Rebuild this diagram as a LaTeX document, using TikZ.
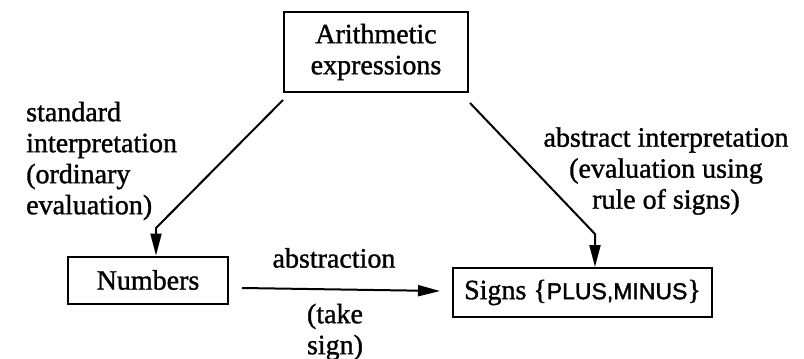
\documentclass[tikz,border=0pt]{standalone}
\usepackage{fontspec}
\setmainfont{Liberation Serif}[FakeBold=1.2]
\newfontfamily\capsans{Liberation Sans}[FakeBold=1.5]
\usetikzlibrary{arrows.meta}
\begin{document}
\begin{tikzpicture}[x=1pt,y=-1pt,
  txt/.style={font=\fontsize{28}{31}\selectfont, inner sep=0pt},
  box/.style={draw, line width=2pt, font=\fontsize{28}{31}\selectfont, align=center, inner sep=0pt},
  conn/.style={line width=2pt, -{Triangle[length=22pt,width=11pt]}}]
\useasboundingbox (0,0) rectangle (804,359);
% boxes
\node[box, minimum width=184pt, minimum height=80pt] (top) at (376,52) {Arithmetic\\expressions};
\node[box, minimum width=160pt, minimum height=47pt] (num) at (148,280) {Numbers};
\node[box, minimum width=259pt, minimum height=49pt] (sig) at (582.5,292.5)
  {Signs \{{\capsans\fontsize{23}{25}\selectfont PLUS,MINUS}\}};
% labels
\node[txt, align=left, anchor=west] (lstd) at (26,161)
  {standard\\interpretation\\(ordinary\\evaluation)};
\node[txt, align=center] (labs) at (666,171)
  {abstract interpretation\\(evaluation using\\rule of signs)};
\node[txt] (lab) at (334,258) {abstraction};
\node[txt, align=left] (ltake) at (335,332) {(take\\sign)};
% connector points
\coordinate (l0) at (283,100);
\coordinate (l1) at (156,228);
\coordinate (r0) at (470,103);
\coordinate (r1) at (595,234);
\coordinate (h0) at (242,288);
\coordinate (h1) at (440,291);
% connectors
\draw[conn] (l0) -- (l1) -- (l1 |- num.north);
\draw[conn] (r0) -- (r1) -- (r1 |- sig.north);
\draw[conn] (h0) -- (h1);
\end{tikzpicture}
\end{document}
